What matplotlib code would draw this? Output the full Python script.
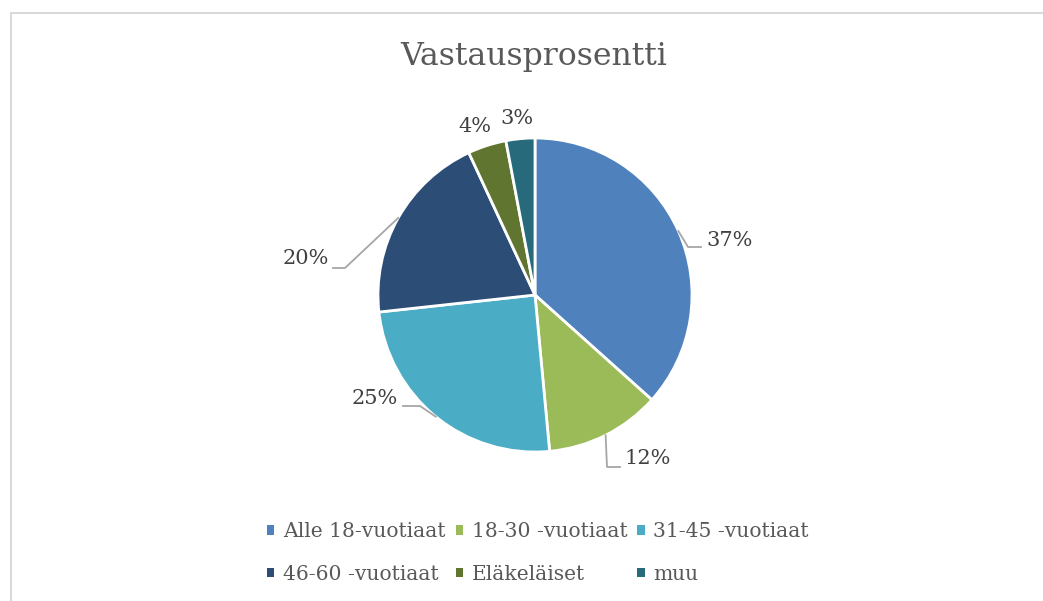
import numpy as np
import matplotlib.pyplot as plt
from matplotlib.patches import Rectangle

categories = ['Alle 18-vuotiaat', '18-30 -vuotiaat', '31-45 -vuotiaat',
              '46-60 -vuotiaat', 'Eläkeläiset', 'muu']
values = [37, 12, 25, 20, 4, 3]
labels = ['37%', '12%', '25%', '20%', '4%', '3%']
colors = ['#4F81BD', '#9BBB59', '#4BACC6', '#2C4D75', '#5F7530', '#276A7C']

W, H = 1043, 601
# layout (pixels from top-left): label text anchor, alignment, leader elbow, leader end x
lab_pos = [(706, 241, 'left'), (624, 458, 'left'), (398, 398, 'right'),
           (329, 259, 'right'), (475, 127, 'center'), (517, 119, 'center')]
leaders = [((688, 247), 701), ((607, 467), 620), ((420, 406), 403),
           ((345, 268), 333), None, None]

plt.rcParams['font.family'] = ['DejaVu Serif']
fig = plt.figure(figsize=(W / 100, H / 100), dpi=100)
ax = fig.add_axes([0, 0, 1, 1])
cx, cy, r = 535, H - 295, 157
wedges, _ = ax.pie(values, colors=colors, startangle=90, counterclock=False,
                   center=(cx, cy), radius=r, frame=True,
                   wedgeprops=dict(edgecolor='white', linewidth=2))
ax.set_xlim(0, W)
ax.set_ylim(0, H)
ax.set_aspect('auto')
ax.axis('off')

# chart border (only top & left visible)
ax.add_patch(Rectangle((10.5, -20), W + 50, H - 13 + 20, fill=False,
                       edgecolor='#d9d9d9', linewidth=1.5))

for w, lab, (tx, ty, ha), ld in zip(wedges, labels, lab_pos, leaders):
    ang = np.deg2rad((w.theta1 + w.theta2) / 2)
    ex, ey = cx + r * np.cos(ang), cy + r * np.sin(ang)
    if ld is not None:
        (bx, by), endx = ld
        ax.plot([ex, bx, endx], [ey, H - by, H - by], color='#a6a6a6', lw=1.3)
    ax.text(tx, H - ty, lab, ha=ha, va='center', fontsize=15, color='#404040')

ax.text(W / 2 + 12, H - 57, 'Vastausprosentti', ha='center', va='center',
        fontsize=22.7, color='#595959')

order = [0, 3, 1, 4, 2, 5]
leg = fig.legend([wedges[i] for i in order], [categories[i] for i in order],
                 ncol=3, loc='center', bbox_to_anchor=(538 / W, 1 - 553 / H),
                 frameon=False, fontsize=14.6, handlelength=0.35, handleheight=0.35,
                 handletextpad=0.44, columnspacing=0.5, labelspacing=1.15,
                 labelcolor='#595959')
for h in leg.legend_handles:
    h.set_edgecolor('none')

fig.savefig('out.png', dpi=100)
